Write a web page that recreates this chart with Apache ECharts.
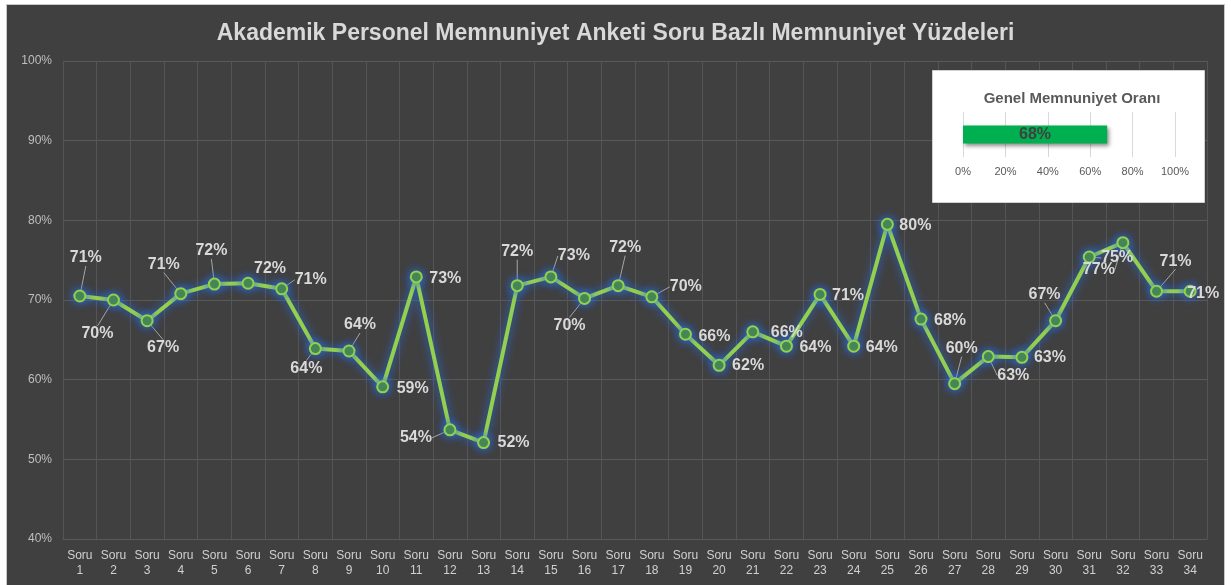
<!DOCTYPE html>
<html>
<head>
<meta charset="utf-8">
<title>Akademik Personel Memnuniyet Anketi</title>
<script src="https://cdn.jsdelivr.net/npm/echarts@6/dist/echarts.min.js"></script>
<style>
  html, body { margin: 0; padding: 0; background: #ffffff; }
  #frame {
    position: absolute; left: 6px; top: 4px; width: 1217px; height: 585px;
    background: #404040; border: 1px solid #c8c8c8;
  }
  #chart { position: absolute; left: 0; top: 0; width: 1231px; height: 585px; }
</style>
</head>
<body>
<div id="frame"></div>
<div id="chart"></div>
<script>
// ── Data ────────────────────────────────────────────────────────────────────
var questions = [];
for (var i = 1; i <= 34; i++) questions.push('Soru\n' + i);

var satisfaction = [
  70.5, 70.0, 67.4, 70.8, 72.0, 72.1, 71.4, 63.9, 63.6, 59.1,
  72.9, 53.7, 52.1, 71.8, 72.9, 70.2, 71.8, 70.4, 65.7, 61.8,
  66.0, 64.2, 70.7, 64.2, 79.5, 67.6, 59.5, 62.9, 62.8, 67.4,
  75.4, 77.2, 71.1, 71.1
];

var yTicks = [40, 50, 60, 70, 80, 90, 100];

var overallName = ['Genel'];
var overallRate = [68];
var overallTicks = [0, 20, 40, 60, 80, 100];

// label placement (dx, dy from point) and whether a leader line is drawn
var labelOffsets = [
  [6, -38], [-16, 34], [16, 27], [-17, -29], [-3, -33], [22, -15], [29, -9], [-9, 20], [11, -26], [30, 2],
  [29, 2], [-34, 8], [30, 0], [0, -34], [23, -21], [-15, 27], [7, -38], [34, -10], [29, 2], [29, 0],
  [34, 1], [29, 1], [28, 1], [28, 1], [28, 1], [29, 1], [7, -35], [25, 19], [28, 0], [-11, -26],
  [28, 1], [-24, 27], [19, -30], [13, 2]
];
var leaderLines = [
  1, 1, 1, 1, 1, 0, 1, 1, 1, 0,
  0, 1, 0, 1, 1, 1, 1, 1, 0, 0,
  0, 0, 0, 0, 0, 0, 1, 1, 0, 1,
  1, 1, 1, 0
];

// ── Chart ───────────────────────────────────────────────────────────────────
var FONT = '"Liberation Sans", Arial, sans-serif';

var lineData = satisfaction.map(function (v, i) {
  return { value: v, labelLine: { show: !!leaderLines[i] } };
});

var chart = echarts.init(document.getElementById('chart'), null, { renderer: 'canvas' });

chart.setOption({
  backgroundColor: 'transparent',
  animation: false,
  title: [{
    text: 'Akademik Personel Memnuniyet Anketi Soru Bazlı Memnuniyet Yüzdeleri',
    left: 'center',
    top: 17,
    textStyle: { color: '#d9d9d9', fontFamily: FONT, fontSize: 23, fontWeight: 'bold' }
  }, {
    text: 'Genel Memnuniyet Oranı',
    left: 1067,
    top: 86,
    textAlign: 'center',
    z: 6,
    textStyle: { color: '#595959', fontFamily: FONT, fontSize: 15, fontWeight: 'bold' }
  }],
  graphic: [{
    type: 'rect',
    z: 2,
    shape: { x: 932.5, y: 70.5, width: 272, height: 132 },
    style: { fill: '#ffffff', stroke: '#d0d0d0', lineWidth: 1 }
  }],
  grid: [
    { left: 63, right: 24, top: 61, bottom: 46 },
    { left: 963, width: 212, top: 112, height: 45 }
  ],
  xAxis: [{
    type: 'category',
    gridIndex: 0,
    data: questions,
    boundaryGap: true,
    axisLine: { lineStyle: { color: '#595959' } },
    axisTick: { show: false },
    splitLine: { show: true, interval: 0, lineStyle: { color: '#555555', width: 1 } },
    axisLabel: {
      interval: 0, color: '#d0d0d0', fontFamily: FONT, fontSize: 12,
      lineHeight: 15, margin: 9
    }
  }, {
    type: 'value',
    gridIndex: 1,
    min: overallTicks[0],
    max: overallTicks[overallTicks.length - 1],
    interval: 20,
    z: 3,
    axisLine: { show: false },
    axisTick: { show: false },
    splitLine: { show: true, lineStyle: { color: '#d9d9d9', width: 1 } },
    axisLabel: { color: '#595959', fontFamily: FONT, fontSize: 11, margin: 9, formatter: '{value}%' }
  }],
  yAxis: [{
    type: 'value',
    gridIndex: 0,
    min: yTicks[0],
    max: yTicks[yTicks.length - 1],
    interval: 10,
    axisLine: { show: false },
    axisTick: { show: false },
    splitLine: { lineStyle: { color: '#595959', width: 1 } },
    axisLabel: { color: '#bfbfbf', fontFamily: FONT, fontSize: 12, margin: 11, formatter: '{value}%' }
  }, {
    type: 'category',
    gridIndex: 1,
    data: overallName,
    show: false
  }],
  series: [{
    type: 'line',
    xAxisIndex: 0,
    yAxisIndex: 0,
    data: lineData,
    symbol: 'circle',
    symbolSize: 11,
    z: 3,
    lineStyle: {
      color: '#92d050', width: 4,
      shadowColor: 'rgba(40, 110, 235, 1)', shadowBlur: 10
    },
    itemStyle: {
      color: '#4f8f27', borderColor: '#92d050', borderWidth: 2,
      shadowColor: 'rgba(40, 110, 235, 1)', shadowBlur: 10
    },
    label: {
      show: true,
      position: 'inside',
      color: '#d9d9d9',
      fontFamily: FONT,
      fontSize: 16,
      fontWeight: 'bold',
      formatter: function (p) { return Math.round(p.value) + '%'; }
    },
    labelLine: { show: true, lineStyle: { color: '#a6a6a6', width: 1 } },
    labelLayout: function (p) {
      var o = labelOffsets[p.dataIndex];
      return { dx: o[0], dy: o[1] };
    }
  }, {
    type: 'bar',
    xAxisIndex: 1,
    yAxisIndex: 1,
    data: overallRate,
    barWidth: 18,
    z: 4,
    itemStyle: {
      color: '#00b050',
      shadowColor: 'rgba(0, 0, 0, 0.45)', shadowBlur: 4, shadowOffsetX: 2, shadowOffsetY: 2
    },
    label: {
      show: true,
      position: 'inside',
      color: '#404040',
      fontFamily: FONT,
      fontSize: 16,
      fontWeight: 'bold',
      formatter: '{c}%'
    }
  }]
});

window.addEventListener('resize', function () { chart.resize(); });
</script>
</body>
</html>
